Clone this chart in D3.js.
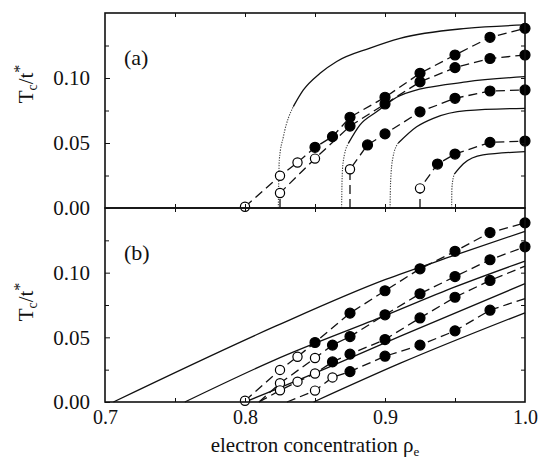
<!DOCTYPE html>
<html>
<head>
<meta charset="utf-8">
<script src="https://cdn.jsdelivr.net/npm/d3@7"></script>
<style>
  body { margin: 0; background: #fff; }
  svg { display: block; }
  svg text { font-family: "Liberation Serif", "DejaVu Serif", serif; fill: #111; }
</style>
</head>
<body>
<main></main>
<script>
// Tick labels
const xTickLabels = [0.7, 0.8, 0.9, 1.0];
const yTickLabels = [0.00, 0.05, 0.10];

// Panel (a): solid Tc curves [rho, Tc]
const curveA1 = [[0.8238,0],[0.8241,0.02],[0.8245,0.037],[0.8274,0.0548],[0.8345,0.078],[0.8417,0.0908],[0.8536,0.1036],[0.8655,0.1127],[0.8893,0.123],[0.9107,0.1305],[0.958,0.1382],[1.0,0.1408]];
const curveA2 = [[0.869,0],[0.8693,0.02],[0.870,0.0344],[0.8738,0.0497],[0.882,0.0638],[0.894,0.074],[0.9107,0.0865],[0.958,0.097],[1.0,0.101]];
const curveA3 = [[0.9036,0],[0.904,0.02],[0.9055,0.038],[0.9095,0.05],[0.9226,0.0625],[0.9345,0.069],[0.958,0.0749],[1.0,0.0767]];
const curveA4 = [[0.9476,0],[0.9478,0.0156],[0.9495,0.026],[0.956,0.034],[0.970,0.0408],[1.0,0.0433]];

// Panel (a): data points [rho, Tc, marker] ("o" open, "f" filled, "-" none)
const serA1 = [[0.8,0.001,"o"],[0.825,0.0248,"o"],[0.8375,0.035,"o"],[0.85,0.0467,"f"],[0.8625,0.0549,"f"],[0.875,0.0698,"f"],[0.9,0.0852,"f"],[0.925,0.1036,"f"],[0.95,0.1177,"f"],[0.975,0.1313,"f"],[1.0,0.1382,"f"]];
const serA2 = [[0.825,0,"-"],[0.825,0.0115,"o"],[0.85,0.038,"o"],[0.875,0.063,"f"],[0.9,0.08,"f"],[0.925,0.097,"f"],[0.95,0.108,"f"],[0.975,0.115,"f"],[1.0,0.1177,"f"]];
const serA3 = [[0.875,0,"-"],[0.875,0.0298,"o"],[0.8875,0.0485,"f"],[0.9,0.057,"f"],[0.925,0.074,"f"],[0.95,0.0844,"f"],[0.975,0.090,"f"],[1.0,0.0908,"f"]];
const serA4 = [[0.925,0,"-"],[0.925,0.0151,"o"],[0.9375,0.0338,"f"],[0.95,0.0415,"f"],[0.975,0.0505,"f"],[1.0,0.0515,"f"]];

// Panel (b): solid Tc lines
const lineB1 = [[0.706,0],[0.8214,0.0584],[0.9,0.0946],[0.95,0.1135],[1.0,0.132]];
const lineB2 = [[0.757,0],[0.8214,0.0326],[0.9,0.0668],[0.95,0.089],[1.0,0.109]];
const lineB3 = [[0.80,0],[0.86,0.027],[0.911,0.051],[1.0,0.0915]];
const lineB4 = [[0.849,0],[0.911,0.030],[1.0,0.069]];

// Panel (b): data points
const serB1 = [[0.8,0.001,"o"],[0.825,0.0248,"o"],[0.8375,0.035,"o"],[0.85,0.046,"f"],[0.875,0.0687,"f"],[0.9,0.086,"f"],[0.925,0.103,"f"],[0.95,0.1165,"f"],[0.975,0.131,"f"],[1.0,0.1385,"f"]];
const serB2 = [[0.81,0,"-"],[0.825,0.0145,"o"],[0.85,0.034,"o"],[0.8625,0.044,"f"],[0.875,0.0506,"f"],[0.9,0.0674,"f"],[0.925,0.0837,"f"],[0.95,0.097,"f"],[0.975,0.110,"f"],[1.0,0.120,"f"]];
const serB3 = [[0.81,0,"-"],[0.825,0.009,"o"],[0.8375,0.0157,"o"],[0.85,0.022,"o"],[0.8625,0.031,"f"],[0.875,0.037,"f"],[0.9,0.0483,"f"],[0.925,0.065,"f"],[0.95,0.081,"f"],[0.975,0.094,"f"],[1.0,0.105,"-"]];
const serB4 = [[0.83,0,"-"],[0.85,0.0088,"o"],[0.8625,0.019,"o"],[0.875,0.0235,"f"],[0.9,0.0354,"f"],[0.925,0.044,"f"],[0.95,0.055,"f"],[0.975,0.071,"f"],[1.0,0.080,"-"]];

// Dimensions
const width = 549;
const height = 462;
const left = 105, right = 525;
const panels = [
  { label: "(a)", top: 13, bottom: 208, curves: [curveA1, curveA2, curveA3, curveA4], steep: [4, 3, 3, 2], series: [serA1, serA2, serA3, serA4], titleY: 84 },
  { label: "(b)", top: 208, bottom: 402, curves: [lineB1, lineB2, lineB3, lineB4], steep: [0, 0, 0, 0], series: [serB1, serB2, serB3, serB4], titleY: 302 }
];

const svg = d3.select("main")
  .append("svg")
  .attr("width", width)
  .attr("height", height);

const x = d3.scaleLinear().domain([0.7, 1.0]).range([left, right]);

panels.forEach((p, i) => {
  const y = d3.scaleLinear().domain([0, 0.15]).range([p.bottom, p.top]);
  const g = svg.append("g");

  const curve = d3.line()
    .x(d => x(d[0]))
    .y(d => y(d[1]))
    .curve(d3.curveMonotoneX);

  // theory curves
  p.curves.forEach((c, k) => {
    const s = p.steep[k];
    if (s > 0) {
      g.append("path")
        .attr("d", curve(c.slice(0, s + 1)))
        .attr("fill", "none")
        .attr("stroke", "#444")
        .attr("stroke-width", 1.1)
        .attr("stroke-dasharray", "1.3,1.3");
    }
    g.append("path")
      .attr("d", curve(c.slice(s)))
      .attr("fill", "none")
      .attr("stroke", "#111")
      .attr("stroke-width", 1.3);
  });

  // dashed data lines
  const straight = d3.line()
    .x(d => x(d[0]))
    .y(d => y(d[1]));

  p.series.forEach(s => {
    g.append("path")
      .attr("d", straight(s))
      .attr("fill", "none")
      .attr("stroke", "#111")
      .attr("stroke-width", 1.3)
      .attr("stroke-dasharray", "9,5");
  });

  // markers
  p.series.forEach(s => {
    g.selectAll(null)
      .data(s.filter(d => d[2] !== "-"))
      .enter()
      .append("circle")
      .attr("cx", d => x(d[0]))
      .attr("cy", d => y(d[1]))
      .attr("r", d => d[2] === "f" ? 5 : 4.6)
      .attr("fill", d => d[2] === "f" ? "#000" : "#fff")
      .attr("stroke", "#000")
      .attr("stroke-width", 1.2);
  });

  // axes with inward ticks
  const yMajor = d3.axisLeft(y).tickValues(yTickLabels).tickSize(-5).tickPadding(15)
    .tickFormat(d3.format(".2f"));
  const yMinor = d3.axisLeft(y).tickValues(d3.range(0.025, 0.15, 0.05)).tickSize(-4).tickFormat("");
  const yRight = d3.axisRight(y).tickValues(d3.range(0.025, 0.15, 0.025)).tickSize(-4).tickFormat("");
  const xTicks = d3.range(0.75, 1.0, 0.05);

  g.append("g").attr("transform", `translate(${left},0)`).call(yMajor)
    .call(a => a.selectAll("text").attr("font-size", 21));
  g.append("g").attr("transform", `translate(${left},0)`).call(yMinor);
  g.append("g").attr("transform", `translate(${right},0)`).call(yRight);
  g.append("g").attr("transform", `translate(0,${p.bottom})`)
    .call(d3.axisBottom(x).tickValues(xTicks).tickSize(-4).tickFormat(""));
  g.append("g").attr("transform", `translate(0,${p.top})`)
    .call(d3.axisTop(x).tickValues(xTicks).tickSize(-4).tickFormat(""));

  g.selectAll(".domain").remove();
  g.selectAll(".tick line").attr("stroke", "#111").attr("stroke-width", 1);

  // frame
  g.append("rect")
    .attr("x", left)
    .attr("y", p.top)
    .attr("width", right - left)
    .attr("height", p.bottom - p.top)
    .attr("fill", "none")
    .attr("stroke", "#111")
    .attr("stroke-width", 1.6);

  // panel label
  g.append("text")
    .attr("x", 124)
    .attr("y", p.top + 52)
    .attr("font-size", 22)
    .text(p.label);

  // y title
  const t = g.append("text")
    .attr("transform", `translate(33,${p.titleY}) rotate(-90)`)
    .attr("text-anchor", "middle")
    .attr("font-size", 21);
  t.append("tspan").text("T");
  t.append("tspan").attr("font-size", 14).attr("dy", 4).text("c");
  t.append("tspan").attr("dy", -4).text("/t");
  t.append("tspan").attr("font-size", 16).attr("dy", -8).text("*");
});

// x tick labels
svg.append("g")
  .attr("transform", "translate(0,402)")
  .call(d3.axisBottom(x).tickValues(xTickLabels).tickSize(0).tickPadding(8).tickFormat(d3.format(".1f")))
  .call(a => a.select(".domain").remove())
  .call(a => a.selectAll("text").attr("font-size", 20));

// x title
const xt = svg.append("text")
  .attr("x", 315)
  .attr("y", 452)
  .attr("text-anchor", "middle")
  .attr("font-size", 21);
xt.append("tspan").text("electron concentration ρ");
xt.append("tspan").attr("font-size", 13).attr("dy", 4).text("e");
</script>
</body>
</html>
